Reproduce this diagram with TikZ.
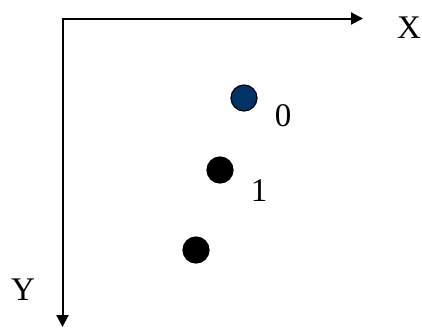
\documentclass[tikz,border=0pt]{standalone}
\usepackage{fontspec}
\setmainfont{Liberation Serif}
\usetikzlibrary{arrows.meta, positioning}

\begin{document}
\begin{tikzpicture}[
    x=0.5pt, y=-0.5pt,
    axis/.style={-{Triangle[length=6pt, width=6pt]}, line width=1pt},
    dot/.style={circle, draw, line width=0.6pt, inner sep=0pt, minimum size=13pt},
    lbl/.style={font=\fontsize{16.5}{20}\selectfont, inner sep=0pt},
]
    \useasboundingbox (0,0) rectangle (422,327);

    \coordinate (o)    at (62.5,18.5);
    \coordinate (xend) at (363,18.5);
    \coordinate (yend) at (62.5,327);

    \draw[axis] ([xshift=-0.5pt]o) -- (xend);
    \draw[axis] (o) -- (yend);

    \node[lbl] (xlab) at (409,28)  {X};
    \node[lbl] (ylab) at (23,290)  {Y};

    \node[dot, fill={rgb,255:red,0;green,51;blue,102}] (p0) at (244,98) {};
    \node[dot, fill=black] (p1) at (220,170) {};
    \node[dot, fill=black] (p2) at (196,250) {};

    \node[lbl] (l0) at (283,116) {0};
    \node[lbl] (l1) at (259,191) {1};
\end{tikzpicture}
\end{document}
